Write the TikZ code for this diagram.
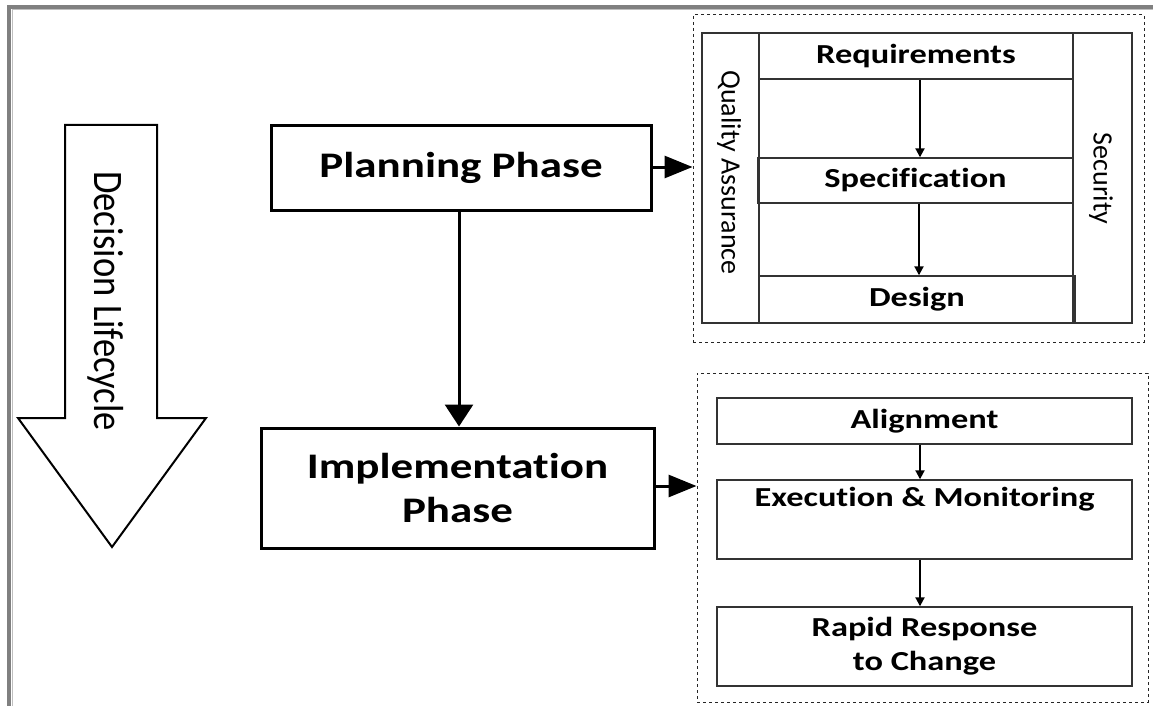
\documentclass[tikz,border=0pt]{standalone}
\usepackage{fontspec}
\setmainfont{Carlito}
\newfontfamily\bfnt{Carlito}[FakeStretch=1.25,Ligatures=NoCommon]
\newfontfamily\rfnt{Carlito}[Ligatures=NoCommon]
\newfontfamily\cfnt{Carlito}[FakeStretch=0.87,Ligatures=NoCommon]
\usetikzlibrary{arrows.meta,calc}
\begin{document}
\begin{tikzpicture}[x=1pt,y=-1pt,
  mainbox/.style={draw, line width=3pt, inner sep=0pt, align=center,
    font=\bfnt\bfseries\fontsize{36}{44}\selectfont},
  inbox/.style={draw=black!80, line width=1.4pt, inner sep=0pt, align=center,
    font=\bfnt\bfseries\fontsize{27.5}{34}\selectfont},
  colbox/.style={draw=black!80, line width=1.4pt, inner sep=0pt},
  coltext/.style={rotate=-90, font=\rfnt\fontsize{28}{34}\selectfont},
  grpbox/.style={draw=black!85, dashed, line width=1pt, inner sep=0pt},
  bigarrow/.style={-{Triangle[length=22pt,width=28pt]}, line width=3pt},
  sidearrow/.style={-{Triangle[length=28pt,width=22pt]}, line width=3pt},
  smallarrow/.style={-{Triangle[length=9pt,width=9pt]}, line width=2pt},
]
\useasboundingbox (0,0) rectangle (1153,706);
% page frame
\draw[black!50, line width=4pt] (9,706) -- (9,7) -- (1153,7);
\draw[black!25, line width=1pt] (12,706) -- (12,10) -- (1153,10);

% decision lifecycle arrow
\draw[line width=2pt, line join=miter] (65,125) -- (157,125) -- (157,418) -- (206,418) -- (112,547) -- (18,418) -- (65,418) -- cycle;
\node[rotate=-90, font=\cfnt\fontsize{42}{50}\selectfont] (dl) at (106,301) {Decision Lifecycle};

% main phases
\node[mainbox, minimum width=380pt, minimum height=84pt] (plan) at (461,168) {Planning Phase};
\node[mainbox, minimum width=393pt, minimum height=120pt] (impl) at (457.5,488) {Implementation\\Phase};

% top group
\node[grpbox, minimum width=451pt, minimum height=327pt] (grp1) at (918.5,178.5) {};
\node[colbox, minimum width=57pt, minimum height=290pt] (qa) at (730.5,178) {};
\node[coltext] (qat) at (729,172.5) {Quality Assurance};
\node[colbox, minimum width=59pt, minimum height=290pt] (sec) at (1102.5,178) {};
\node[coltext] (sect) at (1101,178.5) {Security};
\draw[draw=black!80, line width=1.4pt] (qa.north east) -- (sec.north west);
\draw[draw=black!80, line width=1.4pt] (qa.south east) -- (sec.south west);
\node[inbox, minimum width=314pt, minimum height=46pt] (req) at (916,56) {Requirements};
\node[inbox, minimum width=315pt, minimum height=45pt] (spec) at (915.5,180.5) {Specification};
\node[inbox, minimum width=316pt, minimum height=47pt] (des) at (917,299.5) {Design};
\draw[smallarrow] (req.south -| 920,0) -- (spec.north -| 920,0);
\draw[smallarrow] (spec.south -| 919,0) -- (des.north -| 919,0);

% bottom group
\node[grpbox, minimum width=451pt, minimum height=329pt] (grp2) at (922.5,537.5) {};
\node[inbox, minimum width=415pt, minimum height=46pt] (ali) at (924.5,421) {Alignment};
\node[inbox, minimum width=415pt, minimum height=79pt] (exe) at (924.5,519.5) {Execution \& Monitoring\\[1pt]\strut};
\node[inbox, minimum width=415pt, minimum height=79pt] (rap) at (924.5,646.5) {Rapid Response\\to Change};
\draw[smallarrow] (ali.south -| 920,0) -- (exe.north -| 920,0);
\draw[smallarrow] (exe.south -| 920,0) -- (rap.north -| 920,0);

% main connectors
\draw[bigarrow] (plan.south -| 459,0) -- (impl.north -| 459,0);
\draw[sidearrow] (plan.east |- 0,167) -- (grp1.west |- 0,167);
\draw[sidearrow] (impl.east |- 0,486) -- (grp2.west |- 0,486);
\end{tikzpicture}
\end{document}
